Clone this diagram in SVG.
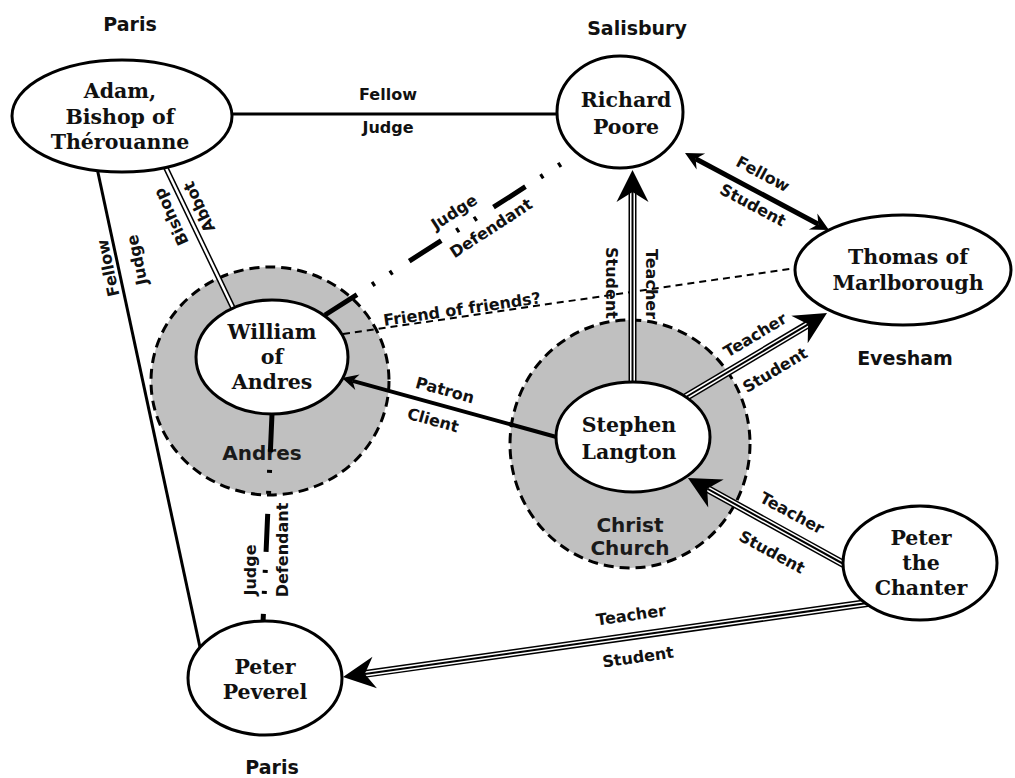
<svg xmlns="http://www.w3.org/2000/svg" width="1015" height="778" viewBox="0 0 1015 778">
  <defs>
    <style>
      .node ellipse { fill: #fff; stroke: #000; stroke-width: 3; }
      .node text { font-family: "DejaVu Serif", "Liberation Serif", serif; font-weight: bold; font-size: 20.5px; text-anchor: middle; fill: #111; }
      .region { fill: #c0c0c0; stroke: #000; stroke-width: 3; stroke-dasharray: 10 6; }
      .region-label { font-family: "DejaVu Sans", "Liberation Sans", sans-serif; font-weight: bold; font-size: 20px; text-anchor: middle; fill: #1a1a1a; }
      .place { font-family: "DejaVu Sans", "Liberation Sans", sans-serif; font-weight: bold; font-size: 19px; text-anchor: middle; fill: #111; }
      .lbl { font-family: "DejaVu Sans", "Liberation Sans", sans-serif; font-weight: bold; font-size: 16px; text-anchor: middle; fill: #111; }
      .plain { fill: none; stroke: #000; stroke-width: 3; }
      .thick { fill: none; stroke: #000; stroke-width: 5; }
      .patron { fill: none; stroke: #000; stroke-width: 4; }
      .dbl-out { fill: none; stroke: #000; stroke-width: 5.5; }
      .dbl-in { fill: none; stroke: #fff; stroke-width: 2.5; }
      .tri-out { fill: none; stroke: #000; stroke-width: 8; }
      .tri-mid { fill: none; stroke: #fff; stroke-width: 5; }
      .tri-in { fill: none; stroke: #000; stroke-width: 2; }
      .court { fill: none; stroke: #000; stroke-width: 5; stroke-dasharray: 38 18 3 18 3 20; }
      .friend { fill: none; stroke: #000; stroke-width: 2; stroke-dasharray: 7 5; }
    </style>
    <!-- large concave head, origin at the notch -->
    <marker id="bigHead" markerUnits="userSpaceOnUse" markerWidth="60" markerHeight="60" refX="0" refY="0" orient="auto" overflow="visible">
      <path d="M22,0 L-10,-16 L0,0 L-10,16 Z" fill="#000"/>
    </marker>
    <marker id="midHead" markerUnits="userSpaceOnUse" markerWidth="40" markerHeight="40" refX="0" refY="0" orient="auto-start-reverse" overflow="visible">
      <path d="M12,0 L-6,-9 L0,0 L-6,9 Z" fill="#000"/>
    </marker>
    <marker id="smallHead" markerUnits="userSpaceOnUse" markerWidth="40" markerHeight="40" refX="0" refY="0" orient="auto" overflow="visible">
      <path d="M11,0 L-5,-8 L0,0 L-5,8 Z" fill="#000"/>
    </marker>
  </defs>

  <rect width="1015" height="778" fill="#fff"/>

  <!-- places -->
  <g id="places">
    <text class="place" x="130" y="31">Paris</text>
    <text class="place" x="637" y="35">Salisbury</text>
    <text class="place" x="905" y="365">Evesham</text>
    <text class="place" x="272" y="774">Paris</text>
  </g>

  <!-- shaded institutions -->
  <g id="region-andres">
    <ellipse class="region" cx="270" cy="381" rx="119" ry="114"/>
    <text class="region-label" x="262" y="460">Andres</text>
  </g>
  <g id="region-christ-church">
    <ellipse class="region" cx="630" cy="444" rx="120" ry="124"/>
    <text class="region-label" x="630" y="532">Christ</text>
    <text class="region-label" x="630" y="555">Church</text>
  </g>

  <!-- connectors -->
  <g id="connectors">
    <!-- Adam – Richard -->
    <line class="plain" x1="230" y1="114" x2="560" y2="114"/>
    <text class="lbl" x="388" y="100">Fellow</text>
    <text class="lbl" x="388" y="133">Judge</text>

    <!-- Adam – Peter Peverel -->
    <line class="plain" x1="97" y1="168" x2="201" y2="652"/>
    <text class="lbl" transform="translate(108,268) rotate(-102)" dy="0.35em">Fellow</text>
    <text class="lbl" transform="translate(137,260) rotate(-102)" dy="0.35em">Judge</text>

    <!-- Adam – William (bishop / abbot) -->
    <line class="dbl-out" x1="165" y1="166" x2="234" y2="310"/>
    <line class="dbl-in" x1="165" y1="166" x2="234" y2="310"/>
    <text class="lbl" transform="translate(171,217) rotate(-115)" dy="0.35em">Bishop</text>
    <text class="lbl" transform="translate(199,207) rotate(-115)" dy="0.35em">Abbot</text>

    <!-- William – Richard (judge / defendant) -->
    <line class="court" x1="325" y1="315" x2="561" y2="164"/>
    <text class="lbl" transform="translate(454,212) rotate(-33)" dy="0.35em">Judge</text>
    <text class="lbl" transform="translate(491,228) rotate(-33)" dy="0.35em">Defendant</text>

    <!-- William – Thomas -->
    <line class="friend" x1="343" y1="334" x2="796" y2="268"/>
    <text class="lbl" transform="translate(462,309) rotate(-8.3)" dy="0.35em">Friend of friends?</text>

    <!-- William – Peter Peverel (judge / defendant) -->
    <line class="court" x1="272" y1="414" x2="263" y2="623"/>
    <text class="lbl" transform="translate(250,570) rotate(-90)" dy="0.35em">Judge</text>
    <text class="lbl" transform="translate(282,550) rotate(-90)" dy="0.35em">Defendant</text>

    <!-- Stephen → William (patron / client) -->
    <line class="patron" x1="560" y1="438" x2="352.6" y2="380.9" marker-end="url(#smallHead)"/>
    <text class="lbl" transform="translate(445,390) rotate(15.5)" dy="0.35em">Patron</text>
    <text class="lbl" transform="translate(433,420) rotate(15.5)" dy="0.35em">Client</text>

    <!-- Richard ↔ Thomas -->
    <line class="thick" x1="695.6" y1="158.7" x2="818.4" y2="224.3" marker-start="url(#midHead)" marker-end="url(#midHead)"/>
    <text class="lbl" transform="translate(763,174) rotate(28)" dy="0.35em">Fellow</text>
    <text class="lbl" transform="translate(753,205) rotate(28)" dy="0.35em">Student</text>

    <!-- Stephen → Richard -->
    <g>
      <line class="tri-out" x1="632.5" y1="386" x2="632.5" y2="192"/>
      <line class="tri-mid" x1="632.5" y1="386" x2="632.5" y2="192"/>
      <line class="tri-in" x1="632.5" y1="386" x2="632.5" y2="192" marker-end="url(#bigHead)"/>
    </g>
    <text class="lbl" transform="translate(612,283) rotate(90)" dy="0.35em">Student</text>
    <text class="lbl" transform="translate(652,284) rotate(90)" dy="0.35em">Teacher</text>

    <!-- Stephen → Thomas -->
    <g>
      <line class="tri-out" x1="681" y1="400" x2="808.1" y2="324.3"/>
      <line class="tri-mid" x1="681" y1="400" x2="808.1" y2="324.3"/>
      <line class="tri-in" x1="681" y1="400" x2="808.1" y2="324.3" marker-end="url(#bigHead)"/>
    </g>
    <text class="lbl" transform="translate(755,335) rotate(-31)" dy="0.35em">Teacher</text>
    <text class="lbl" transform="translate(775,370) rotate(-31)" dy="0.35em">Student</text>

    <!-- Peter the Chanter → Stephen -->
    <g>
      <line class="tri-out" x1="849" y1="567" x2="707.2" y2="488.7"/>
      <line class="tri-mid" x1="849" y1="567" x2="707.2" y2="488.7"/>
      <line class="tri-in" x1="849" y1="567" x2="707.2" y2="488.7" marker-end="url(#bigHead)"/>
    </g>
    <text class="lbl" transform="translate(792,513) rotate(28.4)" dy="0.35em">Teacher</text>
    <text class="lbl" transform="translate(772,552) rotate(28.4)" dy="0.35em">Student</text>

    <!-- Peter the Chanter → Peter Peverel -->
    <g>
      <line class="tri-out" x1="871" y1="602.5" x2="364.8" y2="673.9"/>
      <line class="tri-mid" x1="871" y1="602.5" x2="364.8" y2="673.9"/>
      <line class="tri-in" x1="871" y1="602.5" x2="364.8" y2="673.9" marker-end="url(#bigHead)"/>
    </g>
    <text class="lbl" transform="translate(631,615) rotate(-8)" dy="0.35em">Teacher</text>
    <text class="lbl" transform="translate(638,657) rotate(-8)" dy="0.35em">Student</text>
  </g>

  <!-- people -->
  <g id="adam" class="node">
    <ellipse cx="122" cy="116" rx="110" ry="56"/>
    <text x="120" y="98">Adam,</text>
    <text x="120" y="124">Bishop of</text>
    <text x="120" y="149">Thérouanne</text>
  </g>
  <g id="richard-poore" class="node">
    <ellipse cx="620" cy="112" rx="63" ry="56"/>
    <text x="626" y="107">Richard</text>
    <text x="626" y="134">Poore</text>
  </g>
  <g id="thomas-of-marlborough" class="node">
    <ellipse cx="903" cy="270" rx="108" ry="55"/>
    <text x="908" y="264">Thomas of</text>
    <text x="908" y="290">Marlborough</text>
  </g>
  <g id="william-of-andres" class="node">
    <ellipse cx="272" cy="357" rx="76" ry="57"/>
    <text x="272" y="339">William</text>
    <text x="272" y="364">of</text>
    <text x="272" y="389">Andres</text>
  </g>
  <g id="stephen-langton" class="node">
    <ellipse cx="633" cy="437" rx="77" ry="55"/>
    <text x="629" y="432">Stephen</text>
    <text x="629" y="459">Langton</text>
  </g>
  <g id="peter-the-chanter" class="node">
    <ellipse cx="920" cy="563" rx="77" ry="57"/>
    <text x="921" y="545">Peter</text>
    <text x="921" y="570">the</text>
    <text x="921" y="595">Chanter</text>
  </g>
  <g id="peter-peverel" class="node">
    <ellipse cx="265" cy="678" rx="77" ry="57"/>
    <text x="265" y="674">Peter</text>
    <text x="265" y="699">Peverel</text>
  </g>
</svg>
